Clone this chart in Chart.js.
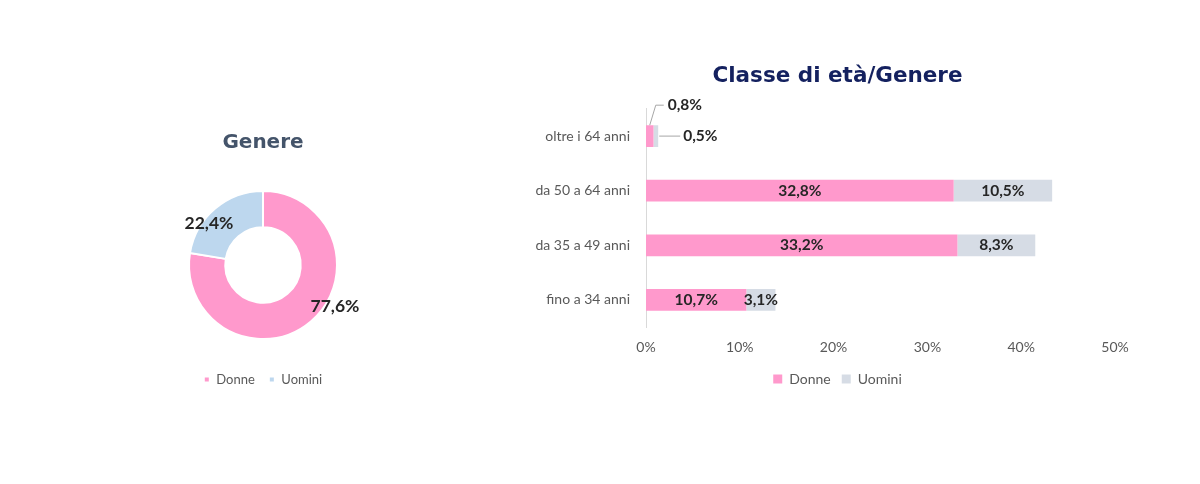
<!DOCTYPE html>
<html><head><meta charset="utf-8">
<script src="https://cdn.jsdelivr.net/npm/chart.js@4"></script>
<style>
html,body{margin:0;padding:0;background:#fff;width:1200px;height:484px;overflow:hidden;position:relative}
#c1{position:absolute;left:163px;top:110px}
#c2{position:absolute;left:483px;top:50px}
</style></head>
<body>
<canvas id="c1" width="200" height="290"></canvas>
<canvas id="c2" width="709" height="346"></canvas>
<script>
const genderLabels = ['Donne', 'Uomini'];
const genderValues = [77.6, 22.4];
const ageCategories = ['oltre i 64 anni', 'da 50 a 64 anni', 'da 35 a 49 anni', 'fino a 34 anni'];
const donneValues = [0.8, 32.8, 33.2, 10.7];
const uominiValues = [0.5, 10.5, 8.3, 3.1];
const xTicks = [0, 10, 20, 30, 40, 50];

const PINK = '#FF99CC', BLUE = '#BDD7EE', GREY = '#D6DCE5';
const fmt = v => v.toFixed(1).replace('.', ',') + '%';

const donutLabels = {
  id: 'donutLabels',
  afterDatasetsDraw(chart) {
    const ctx = chart.ctx;
    const meta = chart.getDatasetMeta(0);
    const offs = [[72, 41], [-54, -42]];
    ctx.save();
    ctx.font = 'bold 17.5px Lato, "Open Sans", sans-serif';
    ctx.fillStyle = '#262626';
    ctx.textAlign = 'center';
    ctx.textBaseline = 'middle';
    meta.data.forEach((arc, i) => {
      ctx.fillText(fmt(genderValues[i]), arc.x + offs[i][0], arc.y + offs[i][1]);
    });
    ctx.restore();
  }
};

new Chart(document.getElementById('c1'), {
  type: 'doughnut',
  data: { labels: genderLabels, datasets: [{ data: genderValues, backgroundColor: [PINK, BLUE], borderColor: '#fff', borderWidth: 2 }] },
  options: {
    responsive: false, animation: false, cutout: '51%', radius: 74,
    layout: { padding: { bottom: 4 } },
    plugins: {
      title: { display: true, text: 'Genere', color: '#44546A', font: { family: '"DejaVu Sans", sans-serif', size: 20, weight: 'bold' }, padding: { top: 21, bottom: 16 } },
      legend: { position: 'bottom', labels: { boxWidth: 6, boxHeight: 6, color: '#595959', font: { family: 'Lato, sans-serif', size: 13 }, padding: 14 } },
      tooltip: { enabled: false }
    }
  },
  plugins: [donutLabels]
});

const barLabels = {
  id: 'barLabels',
  afterDatasetsDraw(chart) {
    const ctx = chart.ctx;
    const m0 = chart.getDatasetMeta(0), m1 = chart.getDatasetMeta(1);
    ctx.save();
    ctx.font = 'bold 15.5px Lato, "Open Sans", sans-serif';
    ctx.fillStyle = '#262626';
    ctx.textBaseline = 'middle';
    ageCategories.forEach((c, i) => {
      const b0 = m0.data[i], b1 = m1.data[i];
      if (i === 0) {
        const top = b0.y - b0.height / 2;
        const x0 = (b0.x + b0.base) / 2;
        const ly = top - 20;
        ctx.strokeStyle = '#A6A6A6';
        ctx.lineWidth = 1;
        ctx.beginPath();
        ctx.moveTo(x0, top);
        ctx.lineTo(x0 + 6, ly);
        ctx.lineTo(x0 + 14, ly);
        ctx.stroke();
        ctx.textAlign = 'left';
        ctx.fillText(fmt(donneValues[i]), x0 + 18, ly);
        ctx.beginPath();
        ctx.moveTo(b1.x + 1, b1.y);
        ctx.lineTo(b1.x + 22, b1.y);
        ctx.stroke();
        ctx.fillText(fmt(uominiValues[i]), b1.x + 25, b1.y);
      } else {
        ctx.textAlign = 'center';
        ctx.fillText(fmt(donneValues[i]), (b0.x + b0.base) / 2, b0.y);
        ctx.fillText(fmt(uominiValues[i]), (b1.x + b1.base) / 2, b1.y);
      }
    });
    ctx.restore();
  }
};

new Chart(document.getElementById('c2'), {
  type: 'bar',
  data: {
    labels: ageCategories,
    datasets: [
      { label: 'Donne', data: donneValues, backgroundColor: PINK, barPercentage: 0.4, categoryPercentage: 1 },
      { label: 'Uomini', data: uominiValues, backgroundColor: GREY, barPercentage: 0.4, categoryPercentage: 1 }
    ]
  },
  options: {
    indexAxis: 'y', responsive: false, animation: false,
    layout: { padding: 0 },
    scales: {
      x: {
        stacked: true, min: 0, max: 50,
        afterBuildTicks: s => { s.ticks = xTicks.map(v => ({ value: v })); },
        ticks: { callback: v => v + '%', color: '#595959', font: { family: 'Lato, sans-serif', size: 14 }, padding: 12 },
        grid: { display: false, drawTicks: false },
        border: { display: false }
      },
      y: {
        stacked: true,
        afterFit: s => { s.width = 163; },
        ticks: { color: '#595959', font: { family: 'Lato, sans-serif', size: 14 }, padding: 16 },
        grid: { display: false, drawTicks: false },
        border: { display: true, color: '#D9D9D9', width: 1 }
      },
      yRight: {
        type: 'linear', position: 'right', display: true,
        afterFit: s => { s.width = 77; },
        ticks: { display: false },
        grid: { display: false, drawTicks: false },
        border: { display: false }
      }
    },
    plugins: {
      title: { display: true, text: 'Classe di età/Genere', color: '#14215F', font: { family: '"DejaVu Sans", sans-serif', size: 21.5, weight: 'bold' }, padding: { top: 14, bottom: 19 } },
      legend: {
        position: 'bottom',
        labels: {
          boxWidth: 9, boxHeight: 9, color: '#595959', font: { family: 'Lato, sans-serif', size: 14 }, padding: 4,
          generateLabels: chart => Chart.defaults.plugins.legend.labels.generateLabels(chart).map((it, i) => {
            if (i === 0) it.text = it.text + '\u2002';
            return it;
          })
        }
      },
      tooltip: { enabled: false }
    }
  },
  plugins: [barLabels]
});
</script>
</body></html>
